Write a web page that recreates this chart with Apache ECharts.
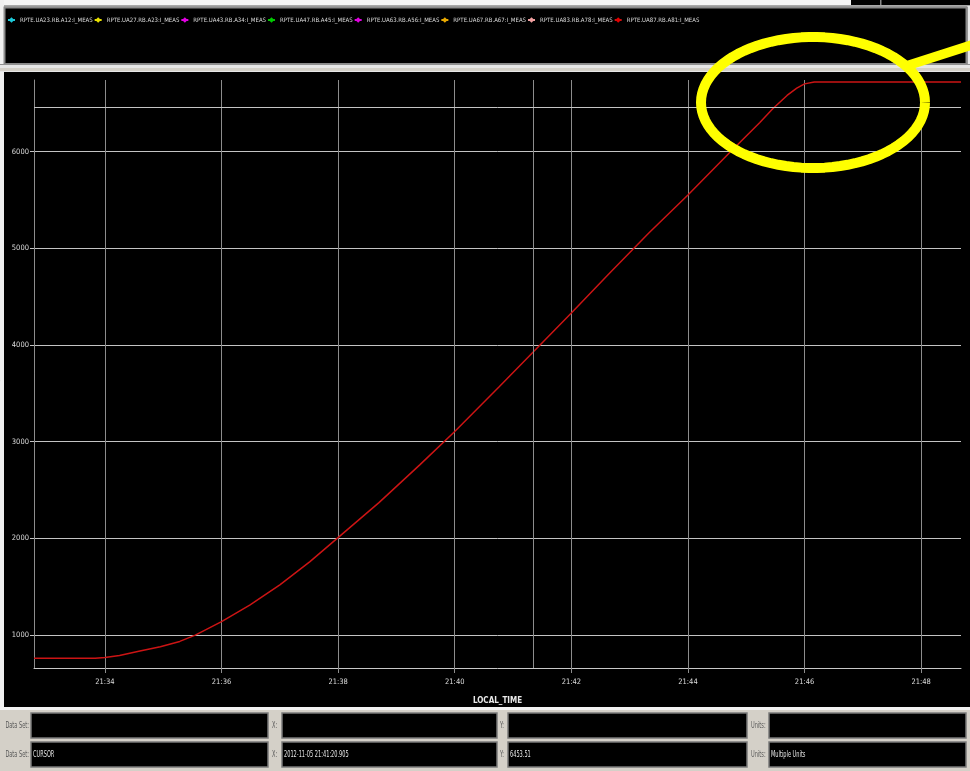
<!DOCTYPE html>
<html>
<head>
<meta charset="utf-8">
<script src="https://cdn.jsdelivr.net/npm/echarts@6/dist/echarts.min.js"></script>
<style>
  html, body { margin: 0; padding: 0; background: #000; }
  #chart { width: 970px; height: 771px; }
</style>
</head>
<body>
<div id="chart"></div>
<script>
// Signals listed in the legend; only the last one carries data in this view
const signalNames = [
  'RPTE.UA23.RB.A12:I_MEAS', 'RPTE.UA27.RB.A23:I_MEAS', 'RPTE.UA43.RB.A34:I_MEAS',
  'RPTE.UA47.RB.A45:I_MEAS', 'RPTE.UA63.RB.A56:I_MEAS', 'RPTE.UA67.RB.A67:I_MEAS',
  'RPTE.UA83.RB.A78:I_MEAS', 'RPTE.UA87.RB.A81:I_MEAS'
];
const signalColors = ['#1cc8d8', '#e8e000', '#e000e0', '#00c800', '#e000e0', '#e8a800', '#f0a0a0', '#e00000'];

// Current ramp of RPTE.UA87.RB.A81 (local time, 2012-11-05)
const day = '2012-11-05';
const times = [
  '21:32:47', '21:33:50', '21:34:00', '21:34:15', '21:34:36', '21:34:57', '21:35:17',
  '21:35:33', '21:36:00', '21:36:29', '21:37:00', '21:37:31', '21:37:59', '21:38:42',
  '21:39:24', '21:40:00', '21:40:46', '21:41:22', '21:42:00', '21:42:39', '21:43:20',
  '21:44:00', '21:44:43', '21:45:14', '21:45:27', '21:45:42', '21:45:52', '21:46:00',
  '21:46:10', '21:48:41'
];
const currents = [
  760, 760, 768, 790, 835, 880, 935,
  1000, 1140, 1310, 1520, 1760, 2000, 2370,
  2760, 3105, 3570, 3940, 4330, 4740, 5160,
  5550, 5990, 6300, 6440, 6580, 6655, 6700,
  6720, 6720
];

// Cursor position shown by the crosshair and the read-out panel
const cursorSet = 'CURSOR';
const cursorTime = '2012-11-05 21:41:20.905';
const cursorValue = 6453.51;
const unitsText = 'Multiple Units';

// Visible window
const timeRange = ['21:32:47', '21:48:41'];
const valueRange = [660, 6740];

const smallFont = '"Liberation Sans Narrow", "DejaVu Sans Condensed", "DejaVu Sans", sans-serif';

const chart = echarts.init(document.getElementById('chart'), null, { renderer: 'canvas' });

const series = signalNames.map((name, i) => {
  const isMain = i === signalNames.length - 1;
  return {
    name: name,
    type: 'line',
    symbol: 'diamond',
    symbolSize: 4,
    showSymbol: false,
    animation: false,
    itemStyle: { color: signalColors[i] },
    lineStyle: { color: isMain ? '#cc1414' : signalColors[i], width: 1.5 },
    data: isMain ? times.map((t, k) => [day + ' ' + t, currents[k]]) : [],
    markLine: isMain ? {
      silent: true,
      symbol: 'none',
      animation: false,
      label: { show: false },
      data: [
        { xAxis: cursorTime, lineStyle: { color: '#8c8c8c', width: 1, type: 'solid' } },
        { yAxis: cursorValue, lineStyle: { color: '#c4c4c4', width: 1, type: 'solid' } }
      ]
    } : undefined,
    z: 3
  };
});

// Annotation ellipse outline
const ell = { cx: 813, cy: 102.5, rx: 112, ry: 65.5 };
const ellPts = [];
for (let k = 0; k <= 90; k++) {
  const a = (k / 90) * Math.PI * 2;
  ellPts.push([ell.cx + ell.rx * Math.cos(a), ell.cy + ell.ry * Math.sin(a)]);
}

// Narrow panel text: drawn at 8px and squeezed horizontally
function panelText(text, x, y, color, align) {
  return {
    type: 'text', z: 1, x: x, y: y, scaleX: 0.7,
    style: { text: text, x: 0, y: 0, align: align || 'left', verticalAlign: 'middle',
      fill: color, font: '8px ' + smallFont }
  };
}
const panelLabel = (t, x, y, align) => panelText(t, x, y, '#5a5a5a', align);
const panelValue = (t, x, y) => panelText(t, x, y, '#e4e4e4');

function box(x, y, w, h) {
  return { type: 'rect', z: 0, shape: { x: x, y: y, width: w, height: h },
    style: { fill: '#000', stroke: '#7a7a7a', lineWidth: 1.5 } };
}

const rows = [725.5, 754.5];
const graphics = [
  // window chrome above the legend
  { type: 'rect', z: 0, shape: { x: 0, y: 0, width: 851, height: 6 }, style: { fill: '#f4f4f4' } },
  { type: 'rect', z: 0, shape: { x: 880, y: 0, width: 1.5, height: 6 }, style: { fill: '#8a8a8a' } },
  { type: 'rect', z: 0, shape: { x: 0, y: 5, width: 970, height: 2 }, style: { fill: '#a8a8a8' } },
  { type: 'rect', z: 0, shape: { x: 0, y: 0, width: 4, height: 708 }, style: { fill: '#f0f0f0' } },
  // legend panel
  { type: 'rect', z: 0, shape: { x: 4.5, y: 7.5, width: 962, height: 56.5 },
    style: { fill: '#000', stroke: '#8a8a8a', lineWidth: 2 } },
  { type: 'rect', z: 0, shape: { x: 967.5, y: 6, width: 3, height: 58 }, style: { fill: '#e8e8e8' } },
  // separator between legend and plot
  { type: 'rect', z: 0, shape: { x: 0, y: 64, width: 970, height: 8 }, style: { fill: '#e6e6e6' } },
  { type: 'rect', z: 0, shape: { x: 0, y: 64, width: 970, height: 1 }, style: { fill: '#909090' } },
  { type: 'rect', z: 0, shape: { x: 0, y: 68, width: 970, height: 3 }, style: { fill: '#d4d0c8' } },
  // read-out panel
  { type: 'rect', z: 0, shape: { x: 0, y: 707, width: 970, height: 64 }, style: { fill: '#d4d0c8' } },
  { type: 'rect', z: 0, shape: { x: 0, y: 707, width: 970, height: 3 }, style: { fill: '#f2f2f2' } },
  box(31, 713, 237, 25), box(282, 713, 215, 25), box(508, 713, 239, 25), box(769, 713, 197, 25),
  box(31, 742, 237, 25), box(282, 742, 215, 25), box(508, 742, 239, 25), box(769, 742, 197, 25),
  panelLabel('Data Set:', 29, rows[0], 'right'), panelLabel('X:', 272, rows[0]),
  panelLabel('Y:', 500, rows[0]), panelLabel('Units:', 751, rows[0]),
  panelLabel('Data Set:', 29, rows[1], 'right'), panelLabel('X:', 272, rows[1]),
  panelLabel('Y:', 500, rows[1]), panelLabel('Units:', 751, rows[1]),
  panelValue(cursorSet, 33, rows[1]),
  panelValue(cursorTime, 284, rows[1]),
  panelValue(String(cursorValue), 510, rows[1]),
  panelValue(unitsText, 771, rows[1]),
  // yellow highlight ellipse with pointer stroke
  { type: 'polyline', z: 100, shape: { points: ellPts },
    style: { stroke: '#ffff00', lineWidth: 10, fill: null, lineJoin: 'round' } },
  { type: 'line', z: 100, shape: { x1: 903, y1: 67, x2: 975, y2: 44 },
    style: { stroke: '#ffff00', lineWidth: 9.5 } }
];

chart.setOption({
  backgroundColor: '#000',
  animation: false,
  textStyle: { fontFamily: smallFont },
  legend: {
    show: true,
    left: 2,
    top: 12,
    itemWidth: 7,
    itemHeight: 7,
    itemGap: 1,
    z: 5,
    inactiveColor: '#666',
    textStyle: { color: '#dcdcdc', fontSize: 6, fontFamily: smallFont },
    data: signalNames
  },
  grid: { left: 34, right: 9, top: 80, bottom: 103, containLabel: false, outerBoundsMode: 'none' },
  xAxis: {
    type: 'time',
    min: day + ' ' + timeRange[0],
    max: day + ' ' + timeRange[1],
    splitNumber: 7,
    minInterval: 120000,
    name: 'LOCAL_TIME',
    nameLocation: 'middle',
    nameGap: 29,
    nameTextStyle: { color: '#e8e8e8', fontSize: 8, fontWeight: 'bold', fontFamily: smallFont },
    axisLine: { show: true, lineStyle: { color: '#c8c8c8', width: 1 } },
    axisTick: { show: true, length: 5, lineStyle: { color: '#8c8c8c' } },
    axisLabel: {
      color: '#dcdcdc', fontSize: 7.5, margin: 10, fontFamily: smallFont,
      formatter: '{HH}:{mm}', showMinLabel: false, showMaxLabel: false, hideOverlap: false
    },
    splitLine: { show: true, showMinLine: false, showMaxLine: false, lineStyle: { color: '#8c8c8c', width: 1 } }
  },
  yAxis: {
    type: 'value',
    min: valueRange[0],
    max: valueRange[1],
    splitNumber: 6,
    name: 'Multiple Units',
    nameLocation: 'middle',
    nameGap: 24,
    nameRotate: 90,
    nameTextStyle: { color: '#e8e8e8', fontSize: 8, fontWeight: 'bold', fontFamily: smallFont },
    axisLine: { show: true, lineStyle: { color: '#8c8c8c', width: 1 } },
    axisTick: { show: true, length: 4, lineStyle: { color: '#c4c4c4' } },
    axisLabel: { color: '#dcdcdc', fontSize: 7.5, margin: 5, fontFamily: smallFont,
      formatter: v => String(v), showMinLabel: false, showMaxLabel: false },
    splitLine: { show: true, showMinLine: false, showMaxLine: false, lineStyle: { color: '#c4c4c4', width: 1 } }
  },
  series: series,
  graphic: graphics
});
</script>
</body>
</html>
